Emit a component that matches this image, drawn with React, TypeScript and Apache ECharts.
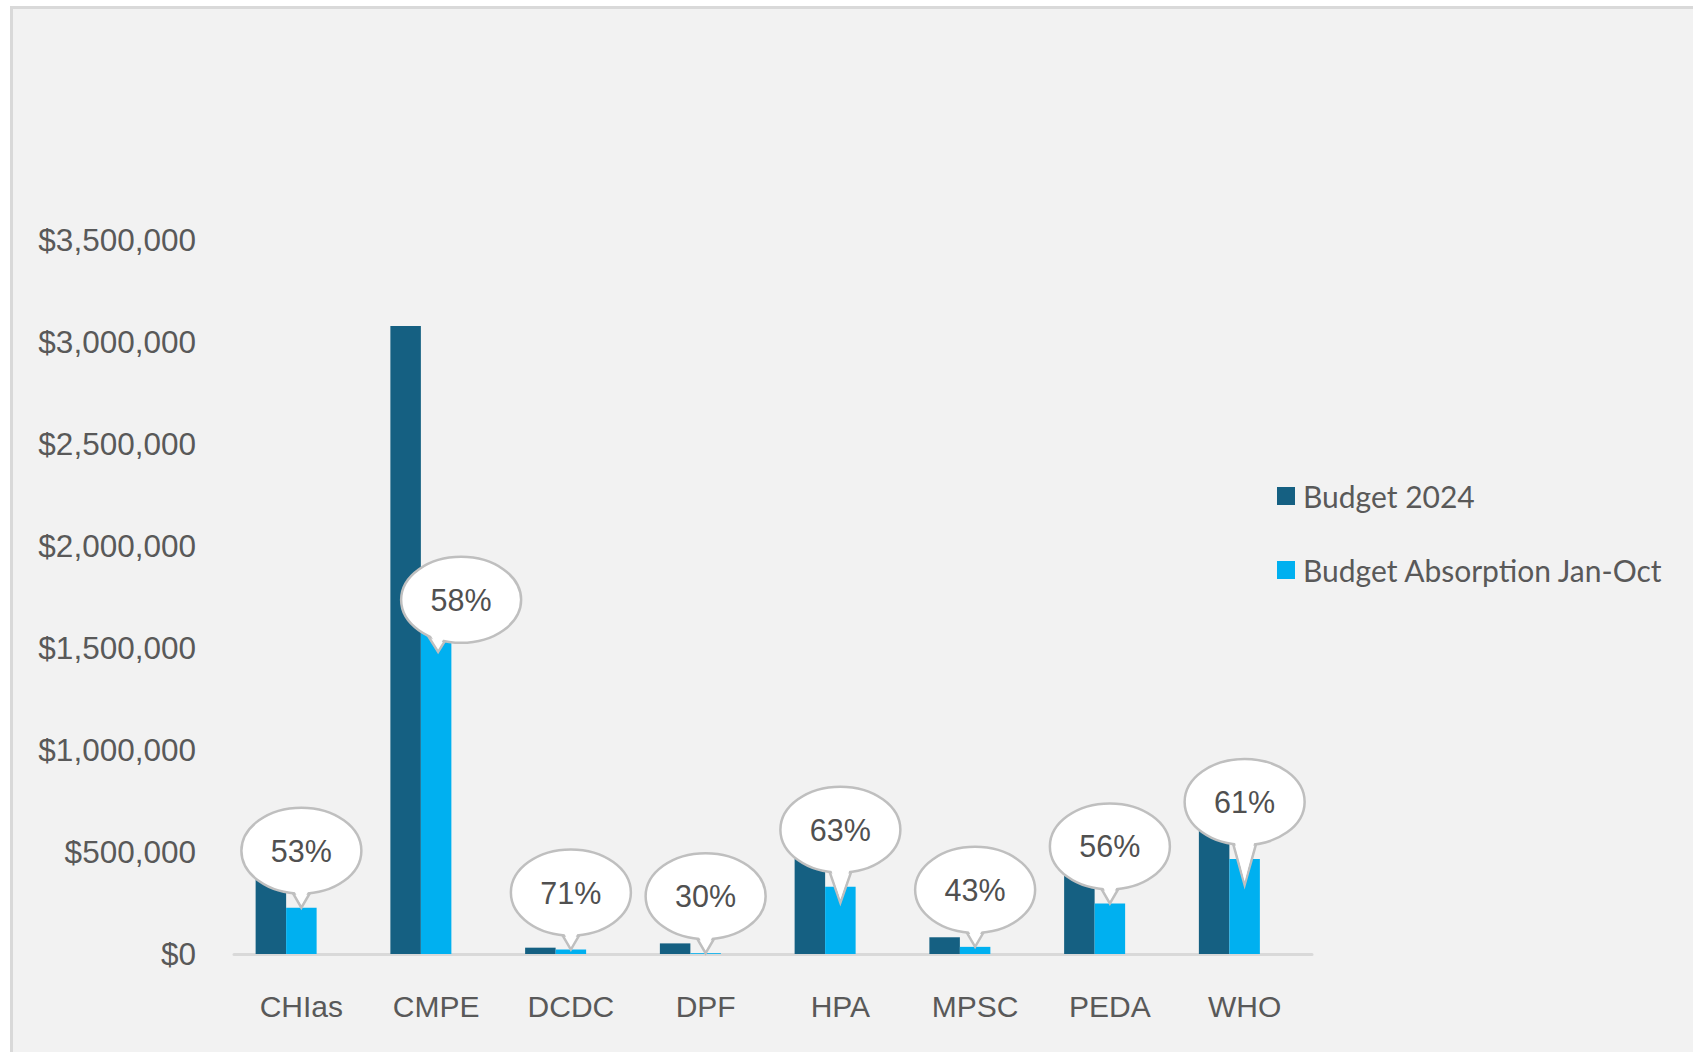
import React, { useEffect, useRef } from "react";
import * as echarts from "echarts";

const categories = ["CHIas", "CMPE", "DCDC", "DPF", "HPA", "MPSC", "PEDA", "WHO"];
const budget2024 = [428000, 3078000, 31000, 52000, 524000, 82000, 443000, 764000];
const absorptionJanOct = [227000, 1785000, 22000, 4000, 330000, 35000, 248000, 466000];
const absorptionPct = [53, 58, 71, 30, 63, 43, 56, 61];
const yMax = 3500000;
const yInterval = 500000;

const seriesNames = ["Budget 2024", "Budget Absorption Jan-Oct"];

// Placement tweaks for a few callouts (annotation layout only)
const calloutTweaks: Record<string, { dx: number; dy: number; tipDy: number }> = {
  CMPE: { dx: 25, dy: 67, tipDy: 62 },
  HPA: { dx: 0, dy: 0, tipDy: 16 },
  WHO: { dx: 0, dy: 0, tipDy: 26 },
};

export default function App() {
  const ref = useRef<HTMLDivElement>(null);
  useEffect(() => {
    const chart = echarts.init(ref.current!, undefined, { renderer: "svg" });
    const font = '"Liberation Sans", Arial, sans-serif';
    const option: any = {
      animation: false,
      backgroundColor: "transparent",
      grid: { left: 234, right: 381, top: 240, bottom: 98, containLabel: false },
      legend: {
        data: seriesNames,
        orient: "vertical",
        left: 1277,
        top: 481,
        padding: 0,
        itemWidth: 18,
        itemHeight: 18,
        itemGap: 44,
        icon: "rect",
        textStyle: { fontFamily: "Lato", fontSize: 30, color: "#595959", lineHeight: 30, padding: [0, 0, 0, 3] },
      },
      xAxis: {
        type: "category",
        data: categories,
        axisLine: { show: true, lineStyle: { color: "#d9d9d9", width: 3 } },
        axisTick: { show: false },
        axisLabel: { fontFamily: font, fontSize: 30, color: "#595959", margin: 37 },
      },
      yAxis: {
        type: "value",
        min: 0,
        max: yMax,
        interval: yInterval,
        splitLine: { show: false },
        axisLine: { show: false },
        axisTick: { show: false },
        axisLabel: {
          fontFamily: font,
          fontSize: 31.5,
          color: "#595959",
          margin: 38,
          formatter: (v: number) => "$" + v.toLocaleString("en-US"),
        },
      },
      series: [
        {
          name: seriesNames[0],
          type: "bar",
          data: budget2024,
          barWidth: 30.5,
          barGap: "0%",
          itemStyle: { color: "#156082" },
        },
        {
          name: seriesNames[1],
          type: "bar",
          data: absorptionJanOct,
          barWidth: 30.5,
          barGap: "0%",
          itemStyle: { color: "#00b0f0" },
        },
        {
          name: "Absorption %",
          type: "bar",
          data: categories.map(() => "-"),
          barWidth: 30.5,
          barGap: "0%",
          itemStyle: { color: "transparent" },
        },
        {
          name: "callouts",
          type: "custom",
          z: 10,
          data: categories.map((c, i) => [i, absorptionJanOct[i], absorptionPct[i]]),
          renderItem: (params: any, api: any) => {
            const i = api.value(0);
            const v = api.value(1);
            const pct = api.value(2);
            const top = api.coord([i, v]);
            const tw = calloutTweaks[categories[i]] || { dx: 0, dy: 0, tipDy: 0 };
            const tipX = top[0] + (tw.dx ? 2 : 0);
            const tipY = top[1] + tw.tipDy;
            const rx = 60;
            const ry = 43;
            const cx = top[0] + tw.dx;
            const cy = top[1] - 57 + tw.dy;
            const bx = Math.max(cx - 28, Math.min(cx + 28, tipX));
            const t = (bx - cx) / rx;
            const bottom = cy + ry * Math.sqrt(1 - t * t);
            const stroke = "#bfbfbf";
            return {
              type: "group",
              children: [
                {
                  type: "polygon",
                  shape: { points: [[bx - 14, bottom - 10], [tipX, tipY], [bx + 14, bottom - 10]] },
                  style: { fill: "#ffffff", stroke, lineWidth: 2.5, lineJoin: "miter" },
                },
                {
                  type: "ellipse",
                  shape: { cx, cy, rx, ry },
                  style: { fill: "#ffffff", stroke, lineWidth: 2.5 },
                },
                {
                  type: "polygon",
                  shape: { points: [[bx - 12, bottom - 12], [tipX, tipY - 3.5], [bx + 12, bottom - 12]] },
                  style: { fill: "#ffffff" },
                },
                {
                  type: "text",
                  x: cx,
                  y: cy,
                  style: {
                    text: pct + "%",
                    fill: "#505050",
                    fontFamily: font,
                    fontSize: 30.5,
                    align: "center",
                    verticalAlign: "middle",
                  },
                },
              ],
            };
          },
        },
      ],
    };
    chart.setOption(option);
    return () => chart.dispose();
  }, []);
  return (
    <div style={{ position: "fixed", left: 0, top: 0, width: 1693, height: 1052, background: "#ffffff", overflow: "hidden" }}>
      <div
        style={{
          position: "absolute",
          left: 10,
          top: 6,
          width: 1720,
          height: 1080,
          border: "3px solid #d9d9d9",
          background: "#f2f2f2",
        }}
      />
      <div ref={ref} style={{ position: "absolute", left: 0, top: 0, width: 1693, height: 1052 }} />
    </div>
  );
}
